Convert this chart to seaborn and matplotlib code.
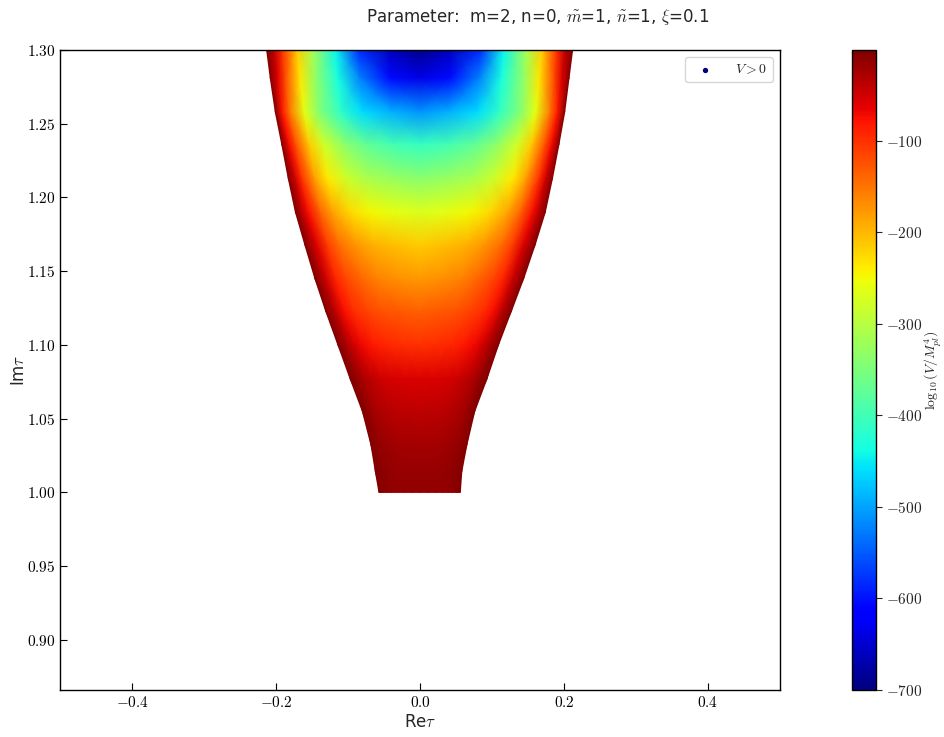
import numpy as np
import matplotlib
matplotlib.use("Agg")
import matplotlib.pyplot as plt
from matplotlib.ticker import FuncFormatter, FixedLocator
import seaborn as sns

# ---------------- data ----------------
# rows of Im(tau) where the region boundary / values were read
im_rows = [1.300, 1.281, 1.258, 1.236, 1.213, 1.190, 1.168, 1.145,
           1.123, 1.100, 1.077, 1.055, 1.032, 1.014, 1.000]
# left and right boundary (Re tau) of the V<0 region at each row
left_edge = [-0.213, -0.208, -0.201, -0.192, -0.183, -0.173, -0.160, -0.146,
             -0.131, -0.114, -0.097, -0.080, -0.068, -0.062, -0.057]
right_edge = [0.212, 0.207, 0.201, 0.193, 0.184, 0.174, 0.160, 0.144,
              0.127, 0.109, 0.093, 0.076, 0.065, 0.058, 0.056]
# fractional distance from the edge (0) to the centre (1) where values were read
d_cols = [0.0, 0.05, 0.1, 0.2, 0.3, 0.45, 0.6, 0.8, 1.0]
# log10(V/Mpl^4) half-profiles (edge -> centre) for each row
half_profiles = [
    [-5, -40, -95, -215, -315, -445, -580, -660, -690],
    [-5, -60, -120, -235, -330, -435, -525, -605, -635],
    [-5, -85, -150, -262, -340, -415, -460, -492, -510],
    [-5, -70, -122, -215, -277, -335, -372, -398, -410],
    [-5, -50, -98, -183, -237, -283, -310, -328, -338],
    [-5, -38, -72, -138, -185, -225, -247, -262, -270],
    [-5, -30, -57, -112, -148, -178, -195, -208, -215],
    [-5, -25, -47, -92, -118, -142, -160, -172, -178],
    [-5, -21, -39, -75, -97, -115, -125, -131, -135],
    [-5, -15, -27, -52, -70, -85, -93, -98, -100],
    [-5, -9, -16, -30, -39, -48, -53, -56, -58],
    [-5, -8, -13, -23, -29, -35, -37, -39, -40],
    [-5, -7, -10, -15, -19, -22, -24, -25, -25],
    [-5, -6, -8, -11, -13, -15, -16, -17, -17],
    [-5, -6, -8, -10, -12, -13, -13, -14, -14],
]
x_ticks = [-0.4, -0.2, 0.0, 0.2, 0.4]
y_ticks = [0.90, 0.95, 1.00, 1.05, 1.10, 1.15, 1.20, 1.25, 1.30]
cbar_ticks = [-700, -600, -500, -400, -300, -200, -100]
title_text = r"Parameter:  m=2, n=0, $\tilde{m}$=1, $\tilde{n}$=1, $\xi$=0.1"

# ---------------- style ----------------
sns.set_theme(style="white")
plt.rcParams.update({
    "font.family": ["DejaVu Sans"],
    "mathtext.fontset": "cm",
    "xtick.direction": "in",
    "ytick.direction": "in",
    "xtick.bottom": True,
    "ytick.left": True,
    "axes.edgecolor": "black",
    "axes.linewidth": 1.0,
})

# ---------------- build mesh from data ----------------
u_half = np.array(d_cols) / 2.0
u = np.concatenate([u_half, 1.0 - u_half[-2::-1]])
vals = np.array([row + row[-2::-1] for row in half_profiles], dtype=float)
L = np.array(left_edge)
R = np.array(right_edge)
X = L[:, None] + u[None, :] * (R - L)[:, None]
Y = np.repeat(np.array(im_rows)[:, None], len(u), axis=1)

fig = plt.figure(figsize=(9.44, 7.37), dpi=100)
ax = fig.add_axes([60 / 944, 47 / 737, 720 / 944, 640 / 737])
cax = fig.add_axes([852 / 944, 47 / 737, 24 / 944, 640 / 737])

mesh = ax.pcolormesh(X, Y, vals, shading="gouraud", cmap="jet",
                     vmin=-700, vmax=-1, rasterized=True)

ax.scatter([], [], s=8, color="#000080", label=r"$V>0$")
leg = ax.legend(loc="upper right", fontsize=10, frameon=True,
                handletextpad=1.2, borderpad=0.4)
leg.get_frame().set_edgecolor("#cccccc")

ax.set_xlim(-0.5, 0.5)
ax.set_ylim(np.sqrt(3) / 2, 1.30)
ax.xaxis.set_major_locator(FixedLocator(x_ticks))
ax.yaxis.set_major_locator(FixedLocator(y_ticks))
ax.xaxis.set_major_formatter(FuncFormatter(lambda v, p: f"${v:.1f}$"))
ax.yaxis.set_major_formatter(FuncFormatter(lambda v, p: f"${v:.2f}$"))
ax.tick_params(axis="both", which="major", length=5, width=0.8,
               labelsize=11, direction="in", colors="black")
ax.set_xlabel(r"Re$\tau$", fontsize=12, labelpad=2)
ax.set_ylabel(r"Im$\tau$", fontsize=12, labelpad=-1)

cb = fig.colorbar(mesh, cax=cax)
cb.set_ticks(cbar_ticks)
cb.ax.yaxis.set_major_formatter(FuncFormatter(lambda v, p: f"${int(round(v))}$"))
cb.ax.tick_params(labelsize=11, direction="out", length=4, width=0.8)
cb.set_label(r"$\log_{10}(V/M_{pl}^4)$", fontsize=10, labelpad=0)
cb.outline.set_linewidth(1.0)

fig.text(538 / 944, 1 - 17 / 737, title_text, fontsize=12,
         ha="center", va="center")

fig.savefig("out.png", dpi=100)
